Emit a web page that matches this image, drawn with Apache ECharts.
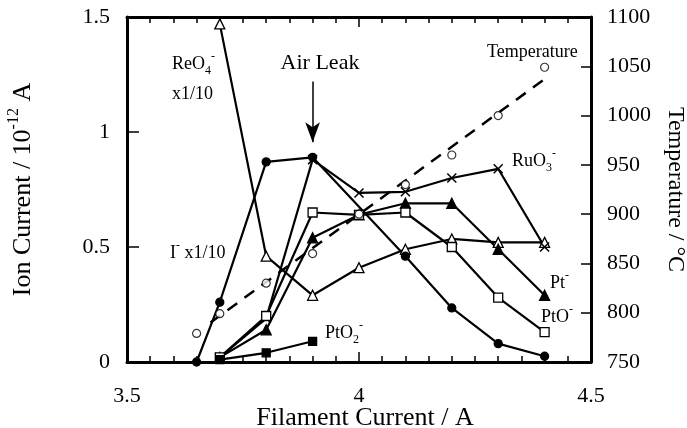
<!DOCTYPE html>
<html><head><meta charset="utf-8">
<script src="https://cdn.jsdelivr.net/npm/echarts@6/dist/echarts.min.js"></script>
<style>html,body{margin:0;padding:0;background:#fff}#c{width:687px;height:428px}</style>
</head><body><div id="c"></div>
<script>
// ---- data ----
const reo4X = [3.7, 3.8, 3.9, 4.0, 4.1, 4.2, 4.3, 4.4];
const reo4Y = [1.47, 0.46, 0.29, 0.41, 0.49, 0.535, 0.52, 0.52];
const iodX = [3.65, 3.7, 3.8, 3.9, 4.1, 4.2, 4.3, 4.4];
const iodY = [0, 0.26, 0.87, 0.89, 0.46, 0.235, 0.08, 0.025];
const ruo3X = [3.7, 3.8, 3.9, 4.0, 4.1, 4.2, 4.3, 4.4];
const ruo3Y = [0.02, 0.19, 0.88, 0.735, 0.74, 0.80, 0.84, 0.50];
const ptX = [3.7, 3.8, 3.9, 4.0, 4.1, 4.2, 4.3, 4.4];
const ptY = [0.02, 0.14, 0.54, 0.64, 0.69, 0.69, 0.49, 0.29];
const ptoX = [3.7, 3.8, 3.9, 4.0, 4.1, 4.2, 4.3, 4.4];
const ptoY = [0.02, 0.20, 0.65, 0.64, 0.65, 0.50, 0.28, 0.13];
const pto2X = [3.7, 3.8, 3.9];
const pto2Y = [0.01, 0.04, 0.09];
const tempX = [3.65, 3.7, 3.8, 3.9, 4.0, 4.1, 4.2, 4.3, 4.4];
const tempY = [779, 799, 830, 860, 900, 930, 960, 1000, 1049];
const tempFitX = [3.68, 4.4];
const tempFitY = [790, 1037];
const airLeakX = 3.9;
const airLeakY = [1.22, 0.955];
const xTicks = [3.5, 4, 4.5];
const yLeftTicks = [0, 0.5, 1, 1.5];
const yRightTicks = [750, 800, 850, 900, 950, 1000, 1050, 1100];

const zip = (xs, ys) => xs.map((x, i) => [x, ys[i]]);
const FONT = 'Liberation Serif';
const BLACK = '#000';

const chart = echarts.init(document.getElementById('c'), null, {renderer: 'canvas'});

const tickStyle = {color: BLACK, width: 1.5};
const plain = v => String(v);
const baseX = {
  type: 'value', min: xTicks[0], max: xTicks[xTicks.length - 1], interval: xTicks[1] - xTicks[0],
  axisLine: {onZero: false, lineStyle: {color: BLACK, width: 3}},
  axisTick: {inside: true, length: 10, lineStyle: tickStyle},
  minorTick: {show: true, splitNumber: 10, length: 6, lineStyle: tickStyle},
  splitLine: {show: false}, minorSplitLine: {show: false}
};

const lineBase = (name, xs, ys, symbol, size, fill) => ({
  name, type: 'line', data: zip(xs, ys), symbol, symbolSize: size,
  showAllSymbol: true,
  lineStyle: {color: BLACK, width: 2.2},
  itemStyle: {color: fill, borderColor: BLACK, borderWidth: 1.3},
  z: 3
});

const label = (x, y, text, extra) => Object.assign({
  type: 'text', x, y, z: 10,
  style: {
    text, fill: BLACK, fontFamily: FONT, fontSize: 18,
    verticalAlign: 'middle', align: 'left',
    rich: {
      n: {fontFamily: FONT, fontSize: 18, lineHeight: 26, verticalAlign: 'middle', fill: BLACK},
      sub: {fontFamily: FONT, fontSize: 12, lineHeight: 12, verticalAlign: 'bottom', fill: BLACK},
      sup: {fontFamily: FONT, fontSize: 12, lineHeight: 12, verticalAlign: 'top', fill: BLACK}
    }
  }
}, extra || {});

const option = {
  animation: false,
  backgroundColor: '#fff',
  grid: {left: 127, right: 96, top: 17, bottom: 66, containLabel: false, outerBoundsMode: 'none'},
  xAxis: [
    Object.assign({}, baseX, {
      position: 'bottom',
      axisLabel: {margin: 23, fontSize: 22, fontFamily: FONT, color: BLACK, showMinLabel: true, showMaxLabel: true, formatter: plain},
      name: 'Filament Current / A', nameLocation: 'middle', nameGap: 43, nameMoveOverlap: false,
      nameTextStyle: {fontSize: 26, fontFamily: FONT, color: BLACK, padding: [0, 0, 0, 12]}
    }),
    Object.assign({}, baseX, {position: 'top', axisLabel: {show: false}})
  ],
  yAxis: [
    {
      type: 'value', position: 'left', min: yLeftTicks[0], max: yLeftTicks[yLeftTicks.length - 1],
      interval: yLeftTicks[1] - yLeftTicks[0],
      axisLine: {onZero: false, lineStyle: {color: BLACK, width: 3}},
      axisTick: {inside: true, length: 12, lineStyle: tickStyle},
      splitLine: {show: false},
      axisLabel: {margin: 17, fontSize: 22, fontFamily: FONT, color: BLACK, showMinLabel: true, showMaxLabel: true, formatter: plain},
      name: '{n|Ion Current / 10}{s|-12}{n| A}', nameLocation: 'middle', nameGap: 87, nameRotate: 90,
      nameMoveOverlap: false,
      nameTextStyle: {
        fontSize: 26, fontFamily: FONT, color: BLACK,
        rich: {
          n: {fontSize: 26, fontFamily: FONT, color: BLACK, lineHeight: 34, verticalAlign: 'middle'},
          s: {fontSize: 16, fontFamily: FONT, color: BLACK, lineHeight: 16, verticalAlign: 'top'}
        }
      }
    },
    {
      type: 'value', position: 'right', min: yRightTicks[0], max: yRightTicks[yRightTicks.length - 1],
      interval: yRightTicks[1] - yRightTicks[0],
      axisLine: {onZero: false, lineStyle: {color: BLACK, width: 3}},
      axisTick: {inside: true, length: 10, lineStyle: tickStyle},
      splitLine: {show: false},
      axisLabel: {margin: 16, fontSize: 22, fontFamily: FONT, color: BLACK, showMinLabel: true, showMaxLabel: true, formatter: plain},
      name: 'Temperature / °C', nameLocation: 'middle', nameGap: 72, nameRotate: -90, nameMoveOverlap: false,
      nameTextStyle: {fontSize: 24, fontFamily: FONT, color: BLACK, padding: [0, 0, 0, 0]}
    }
  ],
  series: [
    {
      name: 'Temperature fit', type: 'line', yAxisIndex: 1, data: zip(tempFitX, tempFitY),
      symbol: 'none', lineStyle: {color: BLACK, width: 2.5, type: [12, 9]}, z: 2
    },
    Object.assign(lineBase('ReO4- x1/10', reo4X, reo4Y, 'triangle', 10, '#fff'), {
      markLine: {
        silent: true, symbol: ['none', 'arrow'], symbolSize: [11, 20], precision: 3,
        label: {show: false},
        lineStyle: {color: BLACK, width: 1.5, type: 'solid'},
        data: [[{coord: [airLeakX, airLeakY[0]]}, {coord: [airLeakX, airLeakY[1]]}]]
      }
    }),
    lineBase('I- x1/10', iodX, iodY, 'circle', 8, BLACK),
    Object.assign(lineBase('RuO3-', ruo3X, ruo3Y, 'path://M0,0L10,10M0,10L10,0', 9, 'none'),
      {itemStyle: {color: 'none', borderColor: BLACK, borderWidth: 1.5}}),
    lineBase('Pt-', ptX, ptY, 'triangle', 10, BLACK),
    lineBase('PtO-', ptoX, ptoY, 'rect', 9, '#fff'),
    lineBase('PtO2-', pto2X, pto2Y, 'rect', 8, BLACK),
    {
      name: 'Temperature', type: 'scatter', yAxisIndex: 1, data: zip(tempX, tempY),
      symbol: 'circle', symbolSize: 8,
      itemStyle: {color: '#fff', borderColor: BLACK, borderWidth: 1.2}, z: 4
    }
  ],
  graphic: [
    label(320, 63, 'Air Leak', {style: {text: 'Air Leak', fill: BLACK, fontFamily: FONT, fontSize: 22, align: 'center', verticalAlign: 'middle'}}),
    label(172, 64, '{n|ReO}{sub|4}{sup|-}'),
    label(172, 94, '{n|x1/10}'),
    label(487, 52, '{n|Temperature}'),
    label(512, 161, '{n|RuO}{sub|3}{sup|-}'),
    label(550, 283, '{n|Pt}{sup|-}'),
    label(541, 317, '{n|PtO}{sup|-}'),
    label(170, 253, '{n|I}{sup|-}{n| x1/10}'),
    label(325, 333, '{n|PtO}{sub|2}{sup|-}')
  ]
};
chart.setOption(option);
</script>
</body></html>
